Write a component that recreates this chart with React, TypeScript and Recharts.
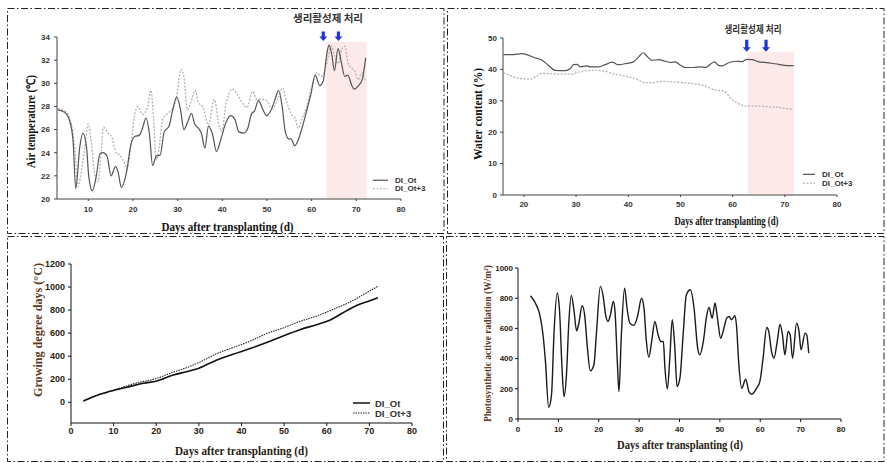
import React from 'react';
import { LineChart, Line, XAxis, YAxis, ReferenceArea, ReferenceDot, Legend } from 'recharts';

// ---------- Panel 1: air temperature ----------
const tempOtDays = [3.2, 4.7, 5.8, 6.6, 7.2, 8.1, 8.8, 9.6, 10.1, 10.9, 11.8, 12.6, 13.3, 14.2, 15.1, 16.1, 16.7, 17.4, 18.5, 19.6, 20.4, 21.4, 22.2, 22.9, 23.7, 24.4, 25.2, 26.1, 27.0, 28.1, 28.9, 29.8, 30.7, 31.4, 32.2, 33.1, 33.8, 34.7, 35.3, 36.1, 36.9, 37.8, 38.7, 39.7, 40.8, 41.9, 42.9, 43.7, 44.8, 45.6, 46.6, 47.2, 48.1, 49.0, 49.9, 50.8, 51.9, 52.6, 53.4, 54.1, 54.9, 55.4, 56.2, 57.0, 57.9, 59.0, 59.8, 60.8, 61.8, 62.6, 63.3, 63.9, 64.5, 65.1, 65.9, 66.7, 67.4, 68.1, 68.9, 69.5, 70.5, 71.3, 72.1];
const tempOt = [27.7, 27.5, 26.8, 25.0, 20.9, 24.5, 25.7, 24.5, 22.0, 20.7, 22.0, 23.9, 24.0, 23.7, 22.0, 22.8, 22.3, 21.0, 22.2, 24.8, 25.4, 25.5, 26.2, 27.0, 25.6, 22.9, 23.7, 23.8, 25.8, 26.3, 27.7, 28.8, 27.6, 26.0, 26.6, 27.4, 26.5, 26.1, 25.7, 24.4, 26.3, 25.6, 24.1, 25.2, 26.6, 27.2, 26.8, 25.8, 25.7, 26.0, 27.4, 27.6, 28.5, 27.8, 27.2, 27.6, 28.7, 29.4, 28.0, 25.8, 25.2, 25.2, 24.6, 25.1, 26.2, 27.8, 29.0, 30.7, 29.8, 30.2, 32.3, 33.3, 32.5, 31.1, 33.0, 31.7, 30.6, 30.7, 29.9, 29.5, 29.8, 30.3, 32.2];
const tempOt3Days = [3.2, 5.1, 6.2, 6.9, 7.7, 8.6, 9.2, 10.0, 10.7, 11.4, 12.2, 12.9, 13.4, 14.4, 15.3, 16.2, 17.0, 18.1, 18.7, 19.6, 20.3, 21.1, 22.2, 23.3, 24.0, 24.6, 25.2, 25.9, 26.6, 27.8, 28.9, 29.6, 30.8, 31.5, 32.2, 33.1, 33.9, 34.7, 35.6, 36.9, 38.2, 39.3, 39.9, 40.8, 42.3, 43.4, 44.5, 45.5, 46.8, 47.7, 48.9, 50.0, 51.1, 52.6, 53.5, 54.4, 55.5, 56.3, 57.0, 57.7, 58.9, 60.0, 61.1, 62.2, 63.0, 63.7, 64.5, 65.2, 66.0, 66.7, 67.4, 68.2, 69.0, 69.7, 70.4, 71.2, 72.0];
const tempOt3 = [27.8, 27.5, 26.5, 24.8, 21.1, 22.8, 24.3, 26.5, 24.8, 22.2, 21.5, 24.2, 26.2, 25.7, 25.3, 24.0, 23.8, 23.1, 22.6, 24.8, 27.1, 28.0, 27.3, 28.0, 29.4, 27.1, 23.4, 24.5, 26.8, 27.4, 27.8, 28.5, 31.2, 30.3, 27.7, 28.5, 29.4, 28.3, 28.0, 26.4, 28.6, 26.3, 25.8, 28.2, 29.5, 29.0, 28.3, 27.9, 29.3, 28.6, 28.6, 28.5, 27.8, 28.8, 29.6, 28.4, 27.3, 27.0, 26.1, 26.8, 28.0, 29.7, 30.9, 30.6, 31.1, 32.3, 33.2, 32.3, 31.7, 32.9, 33.2, 31.7, 31.3, 31.0, 30.3, 30.9, 30.2];
const tempXTicks = [10, 20, 30, 40, 50, 60, 70, 80];
const tempYTicks = [20, 22, 24, 26, 28, 30, 32, 34];

// ---------- Panel 2: water content ----------
const waterOtDays = [16.1, 18.0, 19.6, 20.9, 21.9, 23.5, 24.7, 26.0, 27.9, 28.9, 29.5, 30.2, 30.8, 32.1, 32.7, 34.3, 35.6, 36.9, 38.1, 39.7, 41.0, 42.0, 42.9, 43.6, 44.5, 45.8, 47.1, 48.1, 49.0, 50.0, 50.9, 52.5, 53.8, 54.8, 55.7, 56.5, 57.3, 58.0, 59.2, 60.5, 61.8, 62.7, 63.7, 65.0, 66.9, 68.8, 70.4, 71.7];
const waterOt = [44.7, 44.7, 45.0, 44.5, 43.8, 42.9, 41.3, 39.7, 39.6, 40.3, 41.5, 41.6, 40.8, 41.1, 40.8, 40.8, 41.5, 42.3, 41.5, 41.9, 42.4, 44.0, 45.3, 44.2, 42.9, 43.1, 42.6, 42.2, 42.4, 41.3, 40.6, 40.6, 40.8, 40.6, 41.6, 42.4, 41.3, 41.1, 42.1, 42.6, 42.5, 43.2, 43.1, 42.4, 42.1, 41.6, 41.2, 41.2];
const waterOt3Days = [16.1, 17.1, 18.3, 19.9, 21.2, 22.2, 23.5, 24.7, 26.6, 29.2, 30.5, 31.8, 33.7, 35.6, 36.9, 38.8, 40.7, 42.0, 42.9, 44.5, 46.5, 48.4, 50.3, 52.2, 54.1, 55.4, 56.7, 58.0, 58.9, 59.6, 60.5, 61.8, 62.7, 65.0, 66.9, 68.8, 70.4, 71.7];
const waterOt3 = [38.9, 38.2, 37.4, 37.0, 36.9, 37.6, 38.7, 38.7, 38.5, 38.5, 39.1, 39.5, 39.7, 39.4, 38.7, 38.1, 37.3, 36.6, 35.8, 35.8, 36.2, 36.0, 35.8, 35.5, 35.0, 34.2, 33.4, 33.2, 32.3, 30.8, 29.7, 28.6, 28.3, 28.3, 28.1, 27.9, 27.5, 27.3];
const waterXTicks = [20, 30, 40, 50, 60, 70, 80];
const waterYTicks = [0, 10, 20, 30, 40, 50];

// ---------- Panel 3: growing degree days ----------
const gddOtDays = [2.9, 6.8, 10.3, 13.9, 17.0, 20.1, 24.0, 27.1, 30.0, 34.1, 38.0, 42.0, 45.9, 49.8, 53.7, 57.6, 60.7, 63.8, 67.0, 70.1, 72.0];
const gddOt = [11, 69, 106, 138, 165, 184, 236, 265, 296, 365, 417, 466, 518, 576, 630, 673, 711, 777, 840, 882, 908];
const gddOt3Days = [2.9, 6.8, 10.3, 14.6, 20.1, 24.0, 27.1, 30.0, 34.1, 38.0, 42.0, 45.9, 49.8, 53.7, 57.6, 61.5, 65.4, 69.3, 72.0];
const gddOt3 = [11, 69, 108, 160, 207, 262, 300, 345, 420, 475, 530, 596, 645, 702, 748, 806, 869, 950, 1007];
const gddXTicks = [0, 10, 20, 30, 40, 50, 60, 70, 80];
const gddYTicks = [0, 200, 400, 600, 800, 1000, 1200];

// ---------- Panel 4: photosynthetic active radiation ----------
const parDays = [3.1, 4.5, 5.4, 6.2, 6.8, 7.6, 8.3, 8.9, 9.7, 10.3, 10.9, 11.4, 12, 12.6, 13.2, 13.9, 14.5, 15, 15.9, 16.5, 17.2, 17.9, 18.8, 19.4, 20.4, 21.1, 21.7, 22.3, 22.9, 23.6, 24, 24.6, 25, 25.6, 26.4, 27, 27.7, 28.7, 29.6, 30.6, 31.2, 31.8, 32.4, 33.1, 33.9, 34.7, 35.4, 36, 36.4, 37, 37.6, 38.2, 38.8, 39.4, 40.1, 40.9, 41.7, 42.7, 43.6, 44.5, 45, 45.9, 46.7, 47.3, 48.1, 48.8, 49.4, 50.2, 50.8, 51.7, 52.3, 52.9, 53.7, 54.1, 54.7, 55.4, 56.4, 57.2, 57.9, 59.1, 59.9, 60.7, 61.6, 62.1, 62.8, 63.4, 64.2, 64.9, 65.5, 66.1, 66.9, 67.4, 68, 69, 69.6, 70.1, 71.1, 71.5, 72];
const par = [816, 757, 690, 558, 380, 77, 160, 558, 834, 712, 336, 148, 292, 646, 819, 712, 584, 624, 750, 690, 469, 319, 358, 558, 878, 812, 690, 646, 690, 779, 723, 380, 181, 558, 867, 735, 635, 620, 679, 800, 735, 513, 409, 513, 646, 558, 513, 513, 336, 199, 403, 657, 491, 215, 270, 558, 823, 856, 735, 469, 425, 513, 679, 739, 668, 768, 668, 535, 580, 668, 679, 657, 684, 624, 358, 204, 263, 181, 164, 204, 248, 403, 606, 580, 447, 403, 513, 628, 558, 425, 580, 558, 403, 635, 580, 458, 569, 558, 436];
const parXTicks = [0, 10, 20, 30, 40, 50, 60, 70, 80];
const parYTicks = [0, 200, 400, 600, 800, 1000];

// treatment period and arrows
const treatStart1 = 63.3, treatEnd1 = 72.3, treatTop1 = 33.6;
const treatStart2 = 62.9, treatEnd2 = 71.8, treatTop2 = 45.6;
const arrowDays1 = [62.6, 66.0];
const arrowDays2 = [62.7, 66.4];
const seriesNames = ['DI_Ot', 'DI_Ot+3'];
const treatLabel = '생리활성제 처리';

const series = (days: number[], vals: number[]) => days.map((d, i) => ({ day: d, value: vals[i] }));

const SANS = '"Liberation Sans", Arial, sans-serif';
const SERIF = '"Liberation Serif", "Times New Roman", serif';

const makeArrow = (up: number, down: number) => (props: any) => {
  const { cx, cy } = props;
  const top = cy - up;
  const bot = cy + down;
  const hs = bot - 4.5;
  return (
    <path
      d={`M${cx - 1.6},${top} L${cx + 1.6},${top} L${cx + 1.6},${hs} L${cx + 4},${hs} L${cx},${bot} L${cx - 4},${hs} L${cx - 1.6},${hs} Z`}
      fill="#1f36d8"
    />
  );
};

type LegItem = { name: string; color: string; dash?: string; width: number };
const LegendBox = ({ items, rowH, lineLen, gap, fontSize }: { items: LegItem[]; rowH: number; lineLen: number; gap: number; fontSize: number }) => (
  <svg width={90} height={rowH * items.length + 2} style={{ display: 'block', overflow: 'visible' }}>
    {items.map((it, i) => {
      const y = rowH * i + rowH / 2;
      return (
        <g key={it.name}>
          <line x1={0} x2={lineLen} y1={y} y2={y} stroke={it.color} strokeWidth={it.width} strokeDasharray={it.dash} />
          <text x={lineLen + gap} y={y} dominantBaseline="central" fontFamily={SANS} fontWeight="bold" fontSize={fontSize} fill="#333">
            {it.name}
          </text>
        </g>
      );
    })}
  </svg>
);

const tickStyle = (size: number, fill = '#333') => ({ fontSize: size, fontWeight: 'bold' as const, fill, fontFamily: SANS });

const solidGray = '#555555';
const dotGray = '#b3b3b3';

export default function App() {
  const leg1: LegItem[] = [
    { name: seriesNames[0], color: solidGray, width: 1.2 },
    { name: seriesNames[1], color: dotGray, dash: '2 1.5', width: 1.2 },
  ];
  const leg3: LegItem[] = [
    { name: seriesNames[0], color: '#111', width: 1.5 },
    { name: seriesNames[1], color: '#222', dash: '1.5 1', width: 1.1 },
  ];
  const border = { fill: 'none', stroke: '#222', strokeWidth: 1, strokeDasharray: '7 2.5 1.5 2.5' };
  return (
    <div style={{ position: 'absolute', left: 0, top: 0, width: 887, height: 463, background: '#fff', overflow: 'hidden' }}>
      {/* Panel 1 */}
      <div style={{ position: 'absolute', left: 0, top: 0 }}>
        <LineChart width={445} height={234} margin={{ top: 37, right: 44, bottom: 15, left: 27 }}>
          <ReferenceArea x1={treatStart1} x2={treatEnd1} y1={20} y2={treatTop1} fill="#fbe3e3" fillOpacity={0.8} stroke="none" ifOverflow="visible" />
          <XAxis dataKey="day" type="number" domain={[3, 80]} ticks={tempXTicks} interval={0} allowDataOverflow height={20}
            tickSize={2} tickMargin={5} axisLine={{ stroke: '#444' }} tickLine={{ stroke: '#444' }} tick={tickStyle(8)} />
          <YAxis type="number" domain={[20, 34]} ticks={tempYTicks} interval={0} width={30}
            tickSize={3} tickMargin={4} axisLine={{ stroke: '#444' }} tickLine={{ stroke: '#444' }} tick={tickStyle(8)} />
          <Line data={series(tempOt3Days, tempOt3)} dataKey="value" type="monotone" stroke={dotGray} strokeWidth={1.3} strokeDasharray="2 1.5" dot={false} isAnimationActive={false} name={seriesNames[1]} />
          <Line data={series(tempOtDays, tempOt)} dataKey="value" type="monotone" stroke={solidGray} strokeWidth={1.2} dot={false} isAnimationActive={false} name={seriesNames[0]} />
          {arrowDays1.map((d) => (
            <ReferenceDot key={d} x={d} y={34} r={4} ifOverflow="visible" shape={makeArrow(5.5, 4)} />
          ))}
          <Legend layout="vertical" align="center" verticalAlign="middle"
            wrapperStyle={{ left: 373, top: 176, width: 90, height: 20 }}
            content={() => <LegendBox items={leg1} rowH={8.5} lineLen={15} gap={7} fontSize={8} />} />
        </LineChart>
      </div>

      {/* Panel 2 */}
      <div style={{ position: 'absolute', left: 445, top: 0 }}>
        <LineChart width={442} height={234} margin={{ top: 38, right: 50, bottom: 19, left: 28 }}>
          <ReferenceArea x1={treatStart2} x2={treatEnd2} y1={0} y2={treatTop2} fill="#fbe3e3" fillOpacity={0.8} stroke="none" ifOverflow="visible" />
          <XAxis dataKey="day" type="number" domain={[16, 80]} ticks={waterXTicks} interval={0} allowDataOverflow height={20}
            tickSize={2} tickMargin={4} axisLine={{ stroke: '#444' }} tickLine={{ stroke: '#444' }} tick={tickStyle(8)} />
          <YAxis type="number" domain={[0, 50]} ticks={waterYTicks} interval={0} width={30}
            tickSize={3} tickMargin={3} axisLine={{ stroke: '#444' }} tickLine={{ stroke: '#444' }} tick={tickStyle(8)} />
          <Line data={series(waterOt3Days, waterOt3)} dataKey="value" type="monotone" stroke={dotGray} strokeWidth={1.3} strokeDasharray="2 1.5" dot={false} isAnimationActive={false} name={seriesNames[1]} />
          <Line data={series(waterOtDays, waterOt)} dataKey="value" type="monotone" stroke={solidGray} strokeWidth={1.2} dot={false} isAnimationActive={false} name={seriesNames[0]} />
          {arrowDays2.map((d) => (
            <ReferenceDot key={d} x={d} y={47.5} r={4} ifOverflow="visible" shape={makeArrow(6, 6)} />
          ))}
          <Legend layout="vertical" align="center" verticalAlign="middle"
            wrapperStyle={{ left: 358, top: 169.5, width: 90, height: 20 }}
            content={() => <LegendBox items={leg1} rowH={8.7} lineLen={12} gap={7} fontSize={8} />} />
        </LineChart>
      </div>

      {/* Panel 3 */}
      <div style={{ position: 'absolute', left: 0, top: 234 }}>
        <LineChart width={445} height={229} margin={{ top: 30, right: 33, bottom: 20, left: 35 }}>
          <XAxis dataKey="day" type="number" domain={[0, 80]} ticks={gddXTicks} interval={0} height={20}
            tickSize={3} tickMargin={2} axisLine={{ stroke: '#111' }} tickLine={{ stroke: '#111' }} tick={tickStyle(9, '#2a1d12')} />
          <YAxis type="number" domain={[-180, 1200]} ticks={gddYTicks} interval={0} width={36}
            tickSize={3} tickMargin={3} axisLine={{ stroke: '#111' }} tickLine={{ stroke: '#111' }} tick={tickStyle(9, '#2a1d12')} />
          <Line data={series(gddOt3Days, gddOt3)} dataKey="value" type="monotone" stroke="#222" strokeWidth={1.1} strokeDasharray="1.5 1" dot={false} isAnimationActive={false} name={seriesNames[1]} />
          <Line data={series(gddOtDays, gddOt)} dataKey="value" type="monotone" stroke="#111" strokeWidth={1.6} dot={false} isAnimationActive={false} name={seriesNames[0]} />
          <Legend layout="vertical" align="center" verticalAlign="middle"
            wrapperStyle={{ left: 353, top: 164.3, width: 90, height: 22 }}
            content={() => <LegendBox items={leg3} rowH={10} lineLen={17} gap={5} fontSize={9.5} />} />
        </LineChart>
      </div>

      {/* Panel 4 */}
      <div style={{ position: 'absolute', left: 445, top: 234 }}>
        <LineChart width={442} height={229} margin={{ top: 34, right: 46, bottom: 24, left: 37 }}>
          <XAxis dataKey="day" type="number" domain={[0, 80]} ticks={parXTicks} interval={0} height={20}
            tickSize={3} tickMargin={4} axisLine={{ stroke: '#111' }} tickLine={{ stroke: '#111' }} tick={tickStyle(8, '#2a1d12')} />
          <YAxis type="number" domain={[0, 1000]} ticks={parYTicks} interval={0} width={36}
            tickSize={3} tickMargin={2} axisLine={{ stroke: '#111' }} tickLine={{ stroke: '#111' }} tick={tickStyle(8, '#2a1d12')} />
          <Line data={series(parDays, par)} dataKey="value" type="monotone" stroke="#1a1a1a" strokeWidth={1.4} dot={false} isAnimationActive={false} name="PAR" />
        </LineChart>
      </div>

      {/* Frames, titles and annotations */}
      <svg width={887} height={463} style={{ position: 'absolute', left: 0, top: 0, pointerEvents: 'none' }}>
        <rect x={7.5} y={8.5} width={436.5} height={225} {...border} />
        <rect x={447.5} y={8.5} width={436.5} height={225} {...border} />
        <rect x={7.5} y={236.5} width={436} height={225} {...border} />
        <rect x={446.5} y={236.5} width={437.5} height={225} {...border} />

        <text x={328} y={22} textAnchor="middle" fontFamily='"Noto Sans CJK KR", sans-serif' fontWeight="bold" fontSize={10.5} fill="#333" textLength={70} lengthAdjust="spacingAndGlyphs">{treatLabel}</text>
        <text x={753} y={33} textAnchor="middle" fontFamily='"Noto Sans CJK KR", sans-serif' fontWeight="bold" fontSize={10} fill="#333" textLength={57} lengthAdjust="spacingAndGlyphs">{treatLabel}</text>

        <text x={227.5} y={230.5} textAnchor="middle" fontFamily={SERIF} fontWeight="bold" fontSize={13} fill="#111" textLength={132} lengthAdjust="spacingAndGlyphs">Days after transplanting (d)</text>
        <text x={35} y={121.5} transform="rotate(-90 35 121.5)" textAnchor="middle" fontFamily={SERIF} fontWeight="bold" fontSize={12} fill="#111" textLength={93} lengthAdjust="spacingAndGlyphs">Air temperature (℃)</text>

        <text x={726.5} y={224.5} textAnchor="middle" fontFamily={SERIF} fontWeight="bold" fontSize={11.5} fill="#111" textLength={104} lengthAdjust="spacingAndGlyphs">Days after transplanting (d)</text>
        <text x={482} y={114} transform="rotate(-90 482 114)" textAnchor="middle" fontFamily={SERIF} fontWeight="bold" fontSize={11.5} fill="#111" textLength={92} lengthAdjust="spacingAndGlyphs">Water content (%)</text>

        <text x={241.5} y={455} textAnchor="middle" fontFamily={SERIF} fontWeight="bold" fontSize={12.5} fill="#2a1d12" textLength={133} lengthAdjust="spacingAndGlyphs">Days after transplanting (d)</text>
        <text x={42} y={330} transform="rotate(-90 42 330)" textAnchor="middle" fontFamily={SERIF} fontWeight="bold" fontSize={12.5} fill="#5a3a1c" textLength={134} lengthAdjust="spacingAndGlyphs">Growing degree days (°C)</text>

        <text x={680} y={449} textAnchor="middle" fontFamily={SERIF} fontWeight="bold" fontSize={12} fill="#2a1d12" textLength={126} lengthAdjust="spacingAndGlyphs">Days after transplanting (d)</text>
        <text x={490.5} y={343.5} transform="rotate(-90 490.5 343.5)" textAnchor="middle" fontFamily={SERIF} fontWeight="bold" fontSize={10.5} fill="#5a3a1c" textLength={157} lengthAdjust="spacingAndGlyphs">Photosynthetic active radiation (W/m²)</text>
      </svg>
    </div>
  );
}
